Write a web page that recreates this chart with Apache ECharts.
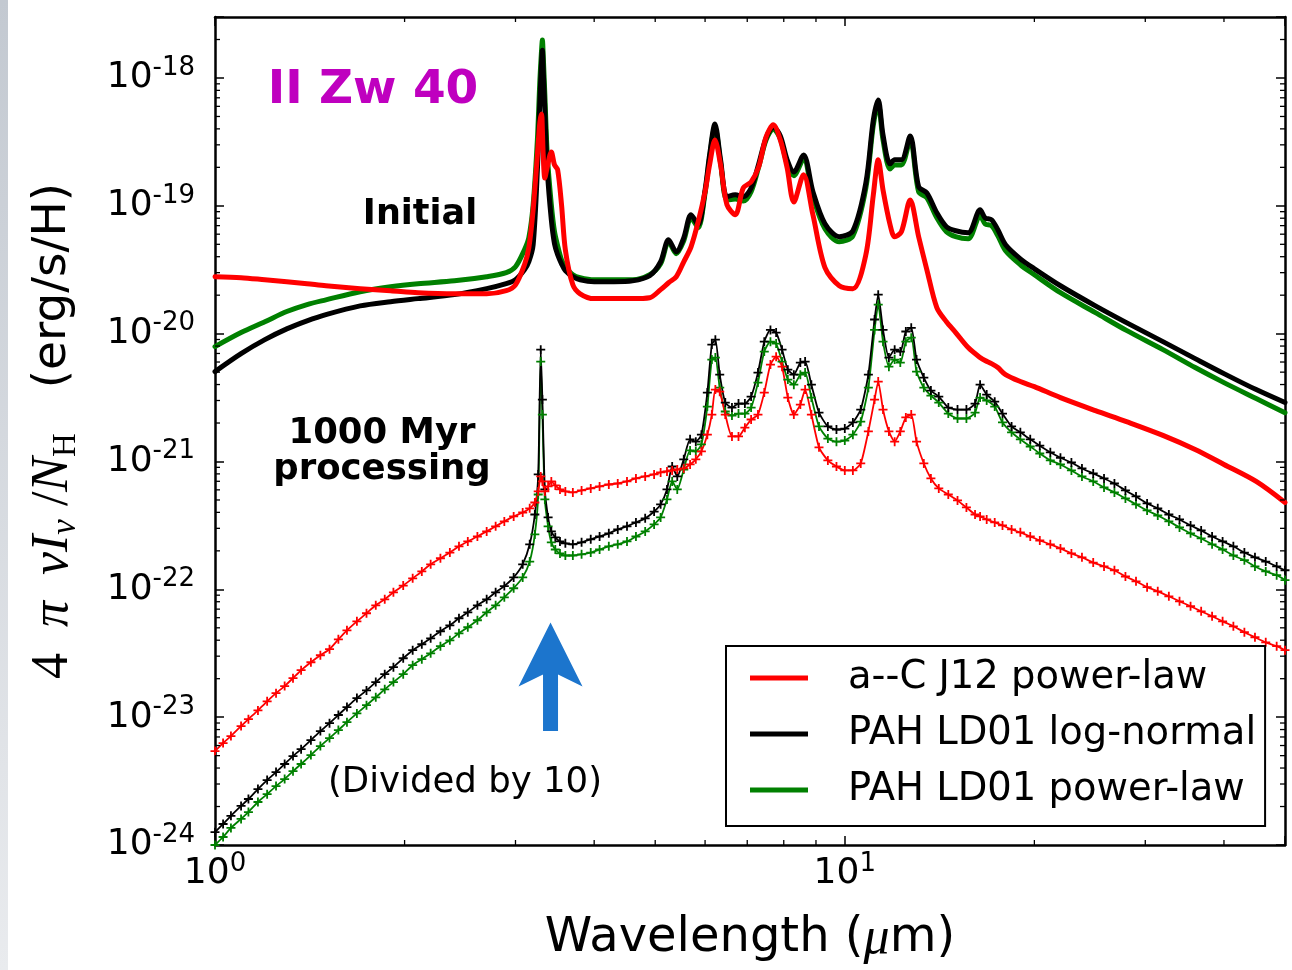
<!DOCTYPE html>
<html><head><meta charset="utf-8">
<script src="https://cdn.jsdelivr.net/npm/echarts@6/dist/echarts.min.js"></script>
<style>html,body{margin:0;padding:0;background:#fff}#c{width:1292px;height:970px}</style>
</head><body><div id="c"></div>
<script>
// ---------- axis settings ----------
const X_MIN = 1, X_MAX = 50;
const Y_MIN = 1e-24, Y_MAX = 3e-18;
const xMinorTicks = [2,3,4,5,6,7,8,9,20,30,40];
const yMinorMantissa = [2,3,4,5,6,7,8,9];
const yDecades = [-24,-23,-22,-21,-20,-19,-18];

// ---------- series names ----------
const names = ['a--C J12 power-law', 'PAH LD01 log-normal', 'PAH LD01 power-law'];

// ---------- Initial spectra (thick lines) ----------
const lamInit = [1.0,1.1,1.2,1.3,1.4,1.5,1.7,1.9,2.1,2.4,
 2.7,2.9,3.0,3.1,3.15,3.2,3.25,3.28,3.3,3.31,
 3.32,3.34,3.37,3.42,3.46,3.5,3.55,3.6,3.7,3.8,
 4.0,4.3,4.6,4.9,5.1,5.25,5.4,5.55,5.7,5.85,
 6.0,6.1,6.22,6.35,6.5,6.7,6.9,7.1,7.3,7.5,
 7.7,7.9,8.1,8.3,8.6,8.9,9.3,9.8,10.3,10.8,
 11.1,11.3,11.5,11.8,12.0,12.3,12.7,13.1,13.5,14.0,
 14.5,15,15.7,16.4,16.7,17.1,17.5,18,19,20,
 22,25,28,32,36,40,45,50];
const redInit = [2.79e-20,2.74e-20,2.64e-20,2.55e-20,2.46e-20,2.37e-20,2.25e-20,2.17e-20,2.09e-20,2.05e-20,
 2.05e-20,2.17e-20,2.41e-20,3.46e-20,4.70e-20,9.31e-20,2.50e-19,4.53e-19,5.23e-19,3.92e-19,
 2.50e-19,1.65e-19,2.02e-19,2.64e-19,2.09e-19,1.91e-19,1.02e-19,4.53e-20,2.41e-20,2.05e-20,
 1.88e-20,1.88e-20,1.88e-20,1.91e-20,2.21e-20,2.50e-20,2.79e-20,3.65e-20,4.78e-20,7.50e-20,
 1.29e-19,2.09e-19,3.28e-19,2.09e-19,1.02e-19,8.51e-20,1.38e-19,1.54e-19,2.02e-19,3.46e-19,
 4.30e-19,3.28e-19,1.98e-19,1.07e-19,1.75e-19,8.51e-20,3.28e-20,2.37e-20,2.25e-20,4.14e-20,
 1.22e-19,2.29e-19,1.33e-19,7.11e-20,5.73e-20,6.27e-20,1.11e-19,5.73e-20,3.16e-20,1.60e-20,
 1.24e-20,1.02e-20,7.78e-21,6.50e-21,6.16e-21,5.83e-21,5.43e-21,4.78e-21,4.22e-21,3.85e-21,
 3.16e-21,2.50e-21,2.05e-21,1.60e-21,1.24e-21,9.48e-22,6.98e-22,4.78e-22];
const blackInit = [5.05e-21,6.98e-21,8.98e-21,1.09e-20,1.26e-20,1.41e-20,1.65e-20,1.78e-20,1.88e-20,2.02e-20,
 2.25e-20,2.46e-20,2.64e-20,3.16e-20,3.65e-20,4.96e-20,1.91e-19,6.73e-19,1.33e-18,1.65e-18,
 1.155e-18,5.62e-19,1.91e-19,7.78e-20,5.05e-20,4.14e-20,3.52e-20,3.11e-20,2.79e-20,2.64e-20,
 2.55e-20,2.55e-20,2.59e-20,2.84e-20,3.65e-20,5.43e-20,4.37e-20,5.62e-20,8.51e-20,7.11e-20,
 1.33e-19,2.50e-19,4.37e-19,2.29e-19,1.18e-19,1.22e-19,1.18e-19,1.38e-19,2.13e-19,3.40e-19,
 4.14e-19,3.52e-19,2.29e-19,1.84e-19,2.50e-19,1.29e-19,7.24e-20,5.73e-20,6.38e-20,1.51e-19,
 4.70e-19,6.73e-19,3.59e-19,2.13e-19,2.29e-19,2.29e-19,3.52e-19,1.41e-19,1.26e-19,8.82e-20,
 6.86e-20,6.38e-20,6.16e-20,9.31e-20,8.06e-20,7.78e-20,6.50e-20,4.96e-20,3.85e-20,3.22e-20,
 2.37e-20,1.65e-20,1.22e-20,8.66e-21,6.38e-21,4.87e-21,3.65e-21,2.89e-21];
const greenInit = [7.92e-21,1.02e-20,1.24e-20,1.49e-20,1.69e-20,1.84e-20,2.13e-20,2.33e-20,2.46e-20,2.59e-20,
 2.79e-20,3.00e-20,3.34e-20,4.53e-20,5.62e-20,1.02e-19,3.28e-19,9.65e-19,1.65e-18,1.98e-18,
 1.51e-18,7.37e-19,2.50e-19,1.02e-19,6.27e-20,4.87e-20,3.78e-20,3.34e-20,2.89e-20,2.74e-20,
 2.64e-20,2.64e-20,2.64e-20,2.89e-20,3.52e-20,5.23e-20,4.22e-20,5.33e-20,8.06e-20,6.73e-20,
 1.26e-19,2.37e-19,4.14e-19,2.17e-19,1.11e-19,1.13e-19,1.09e-19,1.29e-19,2.02e-19,3.28e-19,
 3.99e-19,3.34e-19,2.13e-19,1.72e-19,2.33e-19,1.18e-19,6.61e-20,5.23e-20,5.83e-20,1.38e-19,
 4.30e-19,6.27e-19,3.28e-19,1.94e-19,2.09e-19,2.09e-19,3.28e-19,1.29e-19,1.155e-19,8.06e-20,
 6.27e-20,5.73e-20,5.52e-20,8.36e-20,7.24e-20,6.98e-20,5.83e-20,4.45e-20,3.46e-20,2.89e-20,
 2.09e-20,1.46e-20,1.06e-20,7.50e-21,5.43e-21,4.14e-21,3.11e-21,2.41e-21];

// ---------- 1000 Myr processing, divided by 10 (thin lines with + markers) ----------
const lamProc = [1.00,1.03,1.06,1.10,1.13,1.17,1.21,1.25,1.29,1.33,
 1.37,1.42,1.47,1.52,1.57,1.62,1.68,1.74,1.80,1.86,
 1.92,1.99,2.06,2.13,2.20,2.28,2.36,2.44,2.52,2.61,
 2.70,2.79,2.88,2.98,3.08,3.16,3.22,3.26,3.29,3.31,
 3.34,3.38,3.42,3.47,3.53,3.60,3.70,3.82,3.95,4.08,
 4.22,4.36,4.51,4.66,4.82,4.98,5.10,5.22,5.32,5.42,
 5.55,5.68,5.80,5.92,6.05,6.15,6.23,6.33,6.46,6.62,
 6.78,6.94,7.10,7.28,7.45,7.62,7.78,7.95,8.12,8.30,
 8.50,8.65,8.85,9.10,9.40,9.70,10.0,10.3,10.6,10.9,
 11.15,11.3,11.5,11.75,12.0,12.25,12.5,12.75,13.0,13.35,
 13.7,14.1,14.6,15.1,15.6,16.1,16.4,16.8,17.3,17.8,
 18.4,19.0,19.7,20.4,21.2,22.0,22.9,23.8,24.8,25.8,
 26.8,27.9,29.0,30.2,31.4,32.7,34.0,35.4,36.8,38.3,
 39.8,41.4,43.1,44.8,46.6,48.5,50];
const redProc = [5.43e-24,6.27e-24,7.11e-24,8.51e-24,9.65e-24,1.13e-23,1.33e-23,1.54e-23,1.75e-23,2.02e-23,
 2.33e-23,2.69e-23,3.05e-23,3.40e-23,4.06e-23,4.78e-23,5.62e-23,6.50e-23,7.50e-23,8.36e-23,
 9.48e-23,1.07e-22,1.22e-22,1.38e-22,1.57e-22,1.75e-22,1.94e-22,2.17e-22,2.37e-22,2.59e-22,
 2.84e-22,3.11e-22,3.40e-22,3.72e-22,3.99e-22,4.30e-22,4.78e-22,5.83e-22,7.64e-22,6.98e-22,
 5.83e-22,6.38e-22,6.98e-22,6.50e-22,6.05e-22,5.83e-22,5.73e-22,5.94e-22,6.16e-22,6.38e-22,
 6.61e-22,6.73e-22,6.98e-22,7.37e-22,7.64e-22,7.92e-22,8.22e-22,8.36e-22,8.51e-22,8.66e-22,
 8.82e-22,9.48e-22,1.04e-21,1.20e-21,1.62e-21,2.33e-21,3.65e-21,3.52e-21,2.33e-21,1.57e-21,
 1.57e-21,1.84e-21,2.13e-21,2.33e-21,3.46e-21,5.73e-21,6.61e-21,5.52e-21,3.16e-21,2.33e-21,
 2.79e-21,3.65e-21,2.33e-21,1.29e-21,1.02e-21,9.14e-22,8.51e-22,8.51e-22,9.65e-22,1.72e-21,
 3.05e-21,4.22e-21,2.55e-21,1.72e-21,1.43e-21,1.72e-21,2.21e-21,2.33e-21,1.43e-21,9.65e-22,
 7.37e-22,6.16e-22,5.52e-22,4.96e-22,4.37e-22,3.85e-22,3.72e-22,3.52e-22,3.34e-22,3.16e-22,
 2.94e-22,2.79e-22,2.59e-22,2.41e-22,2.25e-22,2.09e-22,1.91e-22,1.78e-22,1.62e-22,1.51e-22,
 1.41e-22,1.26e-22,1.155e-22,1.04e-22,9.65e-23,8.82e-23,8.06e-23,7.37e-23,6.73e-23,6.16e-23,
 5.62e-23,5.14e-23,4.62e-23,4.22e-23,3.85e-23,3.59e-23,3.34e-23];
const blackProc = [1.26e-24,1.46e-24,1.69e-24,2.02e-24,2.29e-24,2.74e-24,3.22e-24,3.72e-24,4.30e-24,4.96e-24,
 5.62e-24,6.61e-24,7.78e-24,8.98e-24,1.04e-23,1.20e-23,1.41e-23,1.62e-23,1.88e-23,2.17e-23,
 2.46e-23,2.89e-23,3.34e-23,3.72e-23,4.14e-23,4.70e-23,5.23e-23,5.94e-23,6.61e-23,7.50e-23,
 8.36e-23,9.48e-23,1.06e-22,1.24e-22,1.57e-22,2.25e-22,3.85e-22,7.92e-22,7.50e-21,3.05e-21,
 6.05e-22,3.65e-22,2.84e-22,2.55e-22,2.37e-22,2.29e-22,2.25e-22,2.33e-22,2.46e-22,2.59e-22,
 2.74e-22,2.94e-22,3.11e-22,3.34e-22,3.59e-22,4.06e-22,4.62e-22,6.05e-22,9.14e-22,7.64e-22,
 1.04e-21,1.49e-21,1.43e-21,1.62e-21,3.46e-21,8.22e-21,8.98e-21,4.78e-21,2.89e-21,2.64e-21,
 2.84e-21,2.84e-21,3.22e-21,4.96e-21,8.66e-21,1.07e-20,1.02e-20,7.50e-21,5.23e-21,4.78e-21,
 5.94e-21,6.05e-21,3.99e-21,2.41e-21,1.88e-21,1.78e-21,1.81e-21,2.02e-21,2.55e-21,4.78e-21,
 1.29e-20,2.02e-20,1.07e-20,6.50e-21,7.50e-21,7.24e-21,1.04e-20,1.11e-20,6.27e-21,4.53e-21,
 3.59e-21,3.22e-21,2.64e-21,2.55e-21,2.55e-21,2.84e-21,3.99e-21,3.34e-21,2.94e-21,2.37e-21,
 1.88e-21,1.69e-21,1.49e-21,1.33e-21,1.18e-21,1.07e-21,9.82e-22,8.82e-22,8.06e-22,7.37e-22,
 6.73e-22,5.94e-22,5.33e-22,4.70e-22,4.30e-22,3.85e-22,3.52e-22,3.16e-22,2.89e-22,2.59e-22,
 2.37e-22,2.17e-22,1.94e-22,1.78e-22,1.65e-22,1.51e-22,1.41e-22];
const greenProc = [1.00e-24,1.155e-24,1.36e-24,1.60e-24,1.81e-24,2.17e-24,2.50e-24,2.89e-24,3.28e-24,3.78e-24,
 4.30e-24,5.05e-24,5.94e-24,6.86e-24,7.92e-24,9.14e-24,1.07e-23,1.24e-23,1.43e-23,1.65e-23,
 1.88e-23,2.17e-23,2.55e-23,2.84e-23,3.16e-23,3.59e-23,3.99e-23,4.53e-23,5.05e-23,5.73e-23,
 6.61e-23,7.50e-23,8.66e-23,1.02e-22,1.24e-22,1.65e-22,2.69e-22,5.52e-22,6.05e-21,2.33e-21,
 5.05e-22,3.11e-22,2.33e-22,2.05e-22,1.91e-22,1.84e-22,1.84e-22,1.88e-22,1.94e-22,2.05e-22,
 2.17e-22,2.25e-22,2.37e-22,2.59e-22,2.84e-22,3.22e-22,3.65e-22,5.05e-22,6.98e-22,6.05e-22,
 8.66e-22,1.22e-21,1.20e-21,1.36e-21,2.69e-21,6.27e-21,6.50e-21,3.78e-21,2.46e-21,2.29e-21,
 2.37e-21,2.37e-21,2.64e-21,4.14e-21,7.24e-21,8.66e-21,8.36e-21,6.05e-21,4.37e-21,3.99e-21,
 4.78e-21,4.96e-21,3.16e-21,1.88e-21,1.51e-21,1.43e-21,1.46e-21,1.62e-21,2.05e-21,3.78e-21,
 1.07e-20,1.69e-20,8.66e-21,5.52e-21,6.27e-21,5.94e-21,8.66e-21,9.31e-21,5.05e-21,3.78e-21,
 3.28e-21,2.89e-21,2.37e-21,2.17e-21,2.17e-21,2.41e-21,3.16e-21,3.00e-21,2.69e-21,2.02e-21,
 1.69e-21,1.49e-21,1.31e-21,1.155e-21,1.02e-21,9.48e-22,8.51e-22,7.64e-22,6.98e-22,6.27e-22,
 5.73e-22,5.14e-22,4.62e-22,4.14e-22,3.78e-22,3.40e-22,3.05e-22,2.74e-22,2.50e-22,2.25e-22,
 2.05e-22,1.84e-22,1.69e-22,1.51e-22,1.38e-22,1.29e-22,1.18e-22];

// ---------- annotation anchors (data coordinates) ----------
const arrowLam = 3.41, arrowTipVal = 5.5e-23, arrowTailVal = 7.8e-24;

// ---------- build ----------
// ECharts' log scale rounds tick values to 1e-10, so intensities are handed to it in units of 1e-24
const Y_UNIT_EXP = -24;
const toAxis = v => v / Math.pow(10, Y_UNIT_EXP);
const RED = '#FF0000', BLACK = '#000000', GREEN = '#008000';
const PLUS = 'path://M4,0H6V4H10V6H6V10H4V6H0V4H4Z';
const pairs = (lam, vals) => lam.map((l, i) => [l, toAxis(vals[i])]);

function initSeries(name, vals, color) {
  return { type: 'line', name, data: pairs(lamInit, vals), showSymbol: false, symbol: 'none',
    smooth: 0.3,
    lineStyle: { width: 5, color, cap: 'round', join: 'round' }, itemStyle: { color }, silent: true, z: 3 };
}
function procSeries(name, vals, color) {
  return { type: 'line', name, data: pairs(lamProc, vals), showSymbol: true, symbol: PLUS, symbolSize: 9,
    smooth: 0.2,
    lineStyle: { width: 1.8, color }, itemStyle: { color }, silent: true, z: 3 };
}

const yMinor = [];
yDecades.forEach(e => yMinorMantissa.forEach(m => { const v = m * Math.pow(10, e); if (v < Y_MAX * 0.999) yMinor.push(toAxis(v)); }));
const yMinA = toAxis(Y_MIN), yMaxA = toAxis(Y_MAX);

function fmtPow(offset) {
  return function (v) {
    const l = Math.log10(v), e = Math.round(l);
    if (Math.abs(l - e) > 1e-6) return '';
    return '{b|10}{s|' + (e + offset) + '}';
  };
}
const tickRich = {
  b: { fontFamily: 'DejaVu Sans', fontSize: 36, color: '#000', lineHeight: 46, verticalAlign: 'middle' },
  s: { fontFamily: 'DejaVu Sans', fontSize: 26, color: '#000', lineHeight: 24, verticalAlign: 'top' }
};

const tickLine = { lineStyle: { color: '#000', width: 1.5 } };
const baseX = { type: 'log', logBase: 10, min: X_MIN, max: X_MAX, splitLine: { show: false },
  axisLine: { show: true, lineStyle: { color: '#000', width: 2.5 } },
  axisTick: Object.assign({ inside: true, length: 9 }, tickLine) };
const baseY = { type: 'log', logBase: 10, min: yMinA, max: yMaxA, splitNumber: 7, splitLine: { show: false },
  axisLine: { show: true, lineStyle: { color: '#000', width: 2.5 } },
  axisTick: Object.assign({ inside: true, length: 9 }, tickLine) };

const chart = echarts.init(document.getElementById('c'), null, { renderer: 'canvas' });
const option = {
  animation: false,
  backgroundColor: '#fff',
  textStyle: { fontFamily: 'DejaVu Sans' },
  grid: { left: 215, right: 7, top: 17, bottom: 124, show: false },
  xAxis: [
    Object.assign({}, baseX, { position: 'bottom',
      axisLabel: { formatter: fmtPow(0), rich: tickRich, margin: 6 },
      name: '{t|Wavelength (}{mu|μ}{t|m)}', nameLocation: 'middle', nameGap: 68,
      nameTextStyle: { rich: {
        t: { fontFamily: 'DejaVu Sans', fontSize: 48, color: '#000' },
        mu: { fontFamily: 'Liberation Serif', fontStyle: 'italic', fontSize: 52, color: '#000' } } } }),
    Object.assign({}, baseX, { position: 'top', axisLabel: { show: false } })
  ],
  yAxis: [
    Object.assign({}, baseY, { position: 'left',
      axisLabel: { formatter: fmtPow(Y_UNIT_EXP), rich: tickRich, margin: 20 },
      name: '{m|4  }{mi|π  νI}{sb|ν}{m| /}{mi|N}{sr|H}{t|   (erg/s/H)}',
      nameLocation: 'middle', nameGap: 132,
      nameTextStyle: { rich: {
        m: { fontFamily: 'Liberation Serif', fontSize: 52, color: '#000', lineHeight: 60, verticalAlign: 'middle' },
        mi: { fontFamily: 'Liberation Serif', fontStyle: 'italic', fontSize: 52, color: '#000', lineHeight: 60, verticalAlign: 'middle' },
        sb: { fontFamily: 'Liberation Serif', fontStyle: 'italic', fontSize: 35, color: '#000', lineHeight: 34, verticalAlign: 'bottom' },
        sr: { fontFamily: 'Liberation Serif', fontSize: 33, color: '#000', lineHeight: 34, verticalAlign: 'bottom' },
        t: { fontFamily: 'DejaVu Sans', fontSize: 47, color: '#000', lineHeight: 60, verticalAlign: 'middle' } } } }),
    Object.assign({}, baseY, { position: 'right', axisLabel: { show: false } })
  ],
  legend: {
    orient: 'vertical', left: 726, top: 646,
    padding: [10, 9, 14, 24], itemGap: 12, itemWidth: 58, itemHeight: 5, icon: 'rect',
    borderColor: '#000', borderWidth: 2, backgroundColor: '#fff', borderRadius: 0,
    textStyle: { fontFamily: 'DejaVu Sans', fontSize: 38.5, lineHeight: 44, color: '#000', padding: [0, 0, 0, 35] },
    data: names, selectedMode: false
  },
  series: [
    initSeries(names[2], greenInit, GREEN),
    initSeries(names[1], blackInit, BLACK),
    initSeries(names[0], redInit, RED),
    procSeries(names[2], greenProc, GREEN),
    procSeries(names[1], blackProc, BLACK),
    procSeries(names[0], redProc, RED),
    { type: 'custom', silent: true, clip: false, z: 6, data: yMinor.map(v => [X_MIN, v]),
      renderItem: (params, api) => {
        const v = api.value(1);
        const pL = api.coord([X_MIN, v]), pR = api.coord([X_MAX, v]);
        return { type: 'group', children: [
          { type: 'line', shape: { x1: pL[0], y1: pL[1], x2: pL[0] + 5, y2: pL[1] }, style: { stroke: '#000', lineWidth: 1.3 } },
          { type: 'line', shape: { x1: pR[0], y1: pR[1], x2: pR[0] - 5, y2: pR[1] }, style: { stroke: '#000', lineWidth: 1.3 } } ] };
      } },
    { type: 'custom', silent: true, clip: false, z: 6, data: xMinorTicks.map(v => [v, yMinA]),
      renderItem: (params, api) => {
        const v = api.value(0);
        const pB = api.coord([v, yMinA]), pT = api.coord([v, yMaxA]);
        return { type: 'group', children: [
          { type: 'line', shape: { x1: pB[0], y1: pB[1], x2: pB[0], y2: pB[1] - 5 }, style: { stroke: '#000', lineWidth: 1.3 } },
          { type: 'line', shape: { x1: pT[0], y1: pT[1], x2: pT[0], y2: pT[1] + 5 }, style: { stroke: '#000', lineWidth: 1.3 } } ] };
      } }
  ],
  graphic: [
    { type: 'rect', left: 0, top: 0, z: 0, silent: true, shape: { width: 8, height: 970 },
      style: { fill: new echarts.graphic.LinearGradient(0, 0, 0, 1, [{ offset: 0, color: '#c3c9d1' }, { offset: 1, color: '#e9ebee' }]) } },
    { type: 'text', z: 20, silent: true, style: { text: 'II Zw 40', x: 373, y: 91, align: 'center', verticalAlign: 'middle',
      fontFamily: 'DejaVu Sans', fontWeight: 'bold', fontSize: 47, fill: '#BF00BF' } },
    { type: 'text', z: 20, silent: true, style: { text: 'Initial', x: 420, y: 215, align: 'center', verticalAlign: 'middle',
      fontFamily: 'DejaVu Sans', fontWeight: 'bold', fontSize: 35, fill: '#000' } },
    { type: 'text', z: 20, silent: true, style: { text: '1000 Myr', x: 382, y: 434, align: 'center', verticalAlign: 'middle',
      fontFamily: 'DejaVu Sans', fontWeight: 'bold', fontSize: 35.5, fill: '#000' } },
    { type: 'text', z: 20, silent: true, style: { text: 'processing', x: 382, y: 470, align: 'center', verticalAlign: 'middle',
      fontFamily: 'DejaVu Sans', fontWeight: 'bold', fontSize: 35.5, fill: '#000' } },
    { type: 'text', z: 20, silent: true, style: { text: '(Divided by 10)', x: 465, y: 783, align: 'center', verticalAlign: 'middle',
      fontFamily: 'DejaVu Sans', fontSize: 35.5, fill: '#000' } }
  ]
};
chart.setOption(option);

// blue arrow anchored to data coordinates
const tip = chart.convertToPixel({ xAxisIndex: 0, yAxisIndex: 0 }, [arrowLam, toAxis(arrowTipVal)]);
const tail = chart.convertToPixel({ xAxisIndex: 0, yAxisIndex: 0 }, [arrowLam, toAxis(arrowTailVal)]);
const hw = 32, hl = 64, notch = 52, sw = 7.5;
const x0 = tip[0], y0 = tip[1];
chart.setOption({ graphic: option.graphic.concat([{ type: 'polygon', z: 20, silent: true,
  shape: { points: [[x0, y0], [x0 + hw, y0 + hl], [x0 + sw, y0 + notch], [x0 + sw, tail[1]], [x0 - sw, tail[1]], [x0 - sw, y0 + notch], [x0 - hw, y0 + hl]] },
  style: { fill: '#1C75CD' } }]) });
</script></body></html>
